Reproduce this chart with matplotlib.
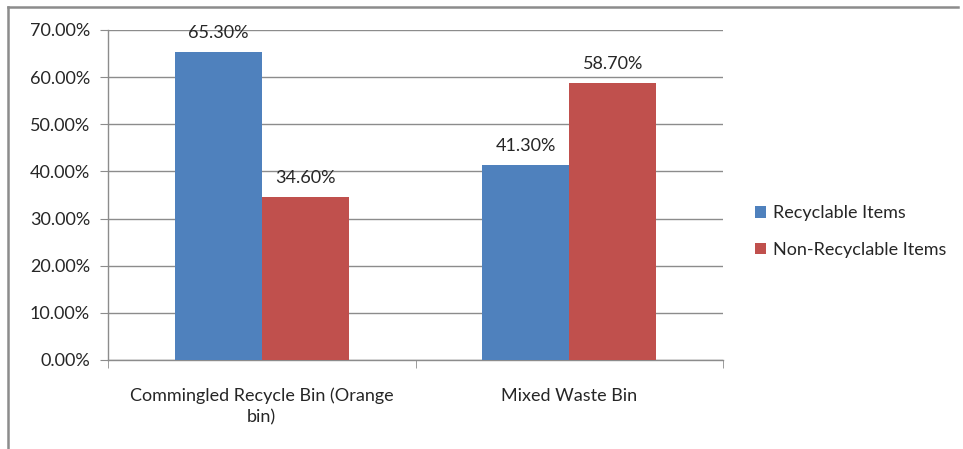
import matplotlib
matplotlib.use("Agg")
import matplotlib.pyplot as plt
from matplotlib.lines import Line2D
import numpy as np

categories = ["Commingled Recycle Bin (Orange\nbin)", "Mixed Waste Bin"]
series_names = ["Recyclable Items", "Non-Recyclable Items"]
recyclable = [65.30, 41.30]
non_recyclable = [34.60, 58.70]
y_ticks = [0, 10, 20, 30, 40, 50, 60, 70]
colors = ["#4F81BD", "#C0504D"]

plt.rcParams["font.family"] = ["Lato", "DejaVu Sans"]
text_color = "#262626"
grid_color = "#8C8C8C"
fs = 13

fig = plt.figure(figsize=(9.63, 4.49), dpi=100)
ax = fig.add_axes([108 / 963, 89 / 449, 615 / 963, 330 / 449])

x = np.arange(len(categories))
w = 0.2825
for i, (vals, name, col) in enumerate(zip([recyclable, non_recyclable], series_names, colors)):
    pos = x + (i - 0.5) * w
    ax.bar(pos, vals, width=w, color=col, label=name, zorder=3)
    for px, v in zip(pos, vals):
        ax.text(px, v + 2.4, f"{v:.2f}%", ha="center", va="bottom",
                fontsize=fs, color=text_color, zorder=4)

ax.set_xlim(-0.5, 1.5)
ax.set_ylim(0, 70)
ax.set_yticks(y_ticks)
ax.set_yticklabels([f"{t:.2f}%" for t in y_ticks], fontsize=fs, color=text_color)
ax.yaxis.grid(True, color=grid_color, linewidth=1.0, zorder=0)
ax.set_axisbelow(True)

ax.set_xticks(x)
ax.set_xticklabels(categories, fontsize=fs, color=text_color, linespacing=1.35)
ax.set_xticks([-0.5, 0.5, 1.5], minor=True)
ax.tick_params(axis="x", which="major", length=0, pad=20)
ax.tick_params(axis="x", which="minor", length=6, color=grid_color, direction="out")
ax.tick_params(axis="y", length=6, color=grid_color, direction="out", pad=7)

for s in ["top", "right"]:
    ax.spines[s].set_visible(False)
for s in ["left", "bottom"]:
    ax.spines[s].set_color(grid_color)
    ax.spines[s].set_linewidth(1.0)

leg = fig.legend(loc="upper left", bbox_to_anchor=(739 / 963, 1 - 189 / 449),
                 frameon=False, fontsize=fs, handlelength=0.6, handleheight=0.6,
                 handletextpad=0.4, labelspacing=1.15)
for t in leg.get_texts():
    t.set_color(text_color)

# outer chart border (top and left edges)
fig.add_artist(Line2D([7.5 / 963, 958 / 963], [1 - 6.5 / 449, 1 - 6.5 / 449],
                      transform=fig.transFigure, color="#8C8C8C", linewidth=1.8))
fig.add_artist(Line2D([7.5 / 963, 7.5 / 963], [0, 1 - 6.5 / 449],
                      transform=fig.transFigure, color="#8C8C8C", linewidth=1.8))

fig.savefig("out.png", dpi=100, facecolor="white")
